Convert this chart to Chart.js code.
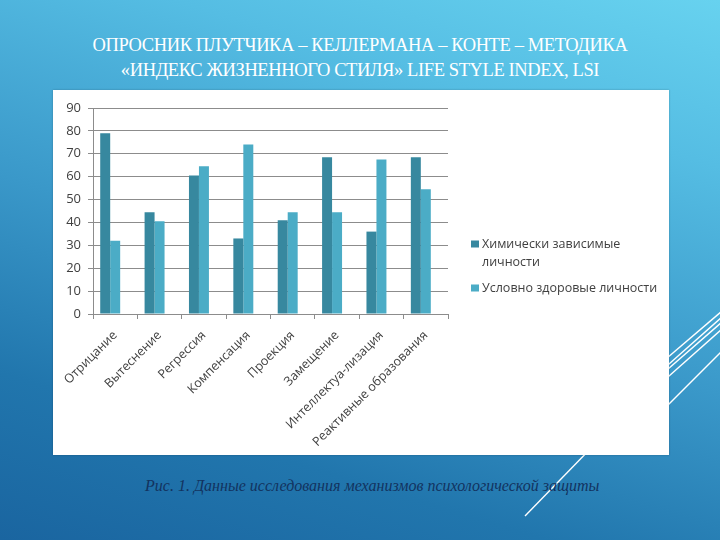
<!DOCTYPE html>
<html>
<head>
<meta charset="utf-8">
<script src="https://cdn.jsdelivr.net/npm/chart.js@4.4.1/dist/chart.umd.min.js"></script>
<style>
  html, body { margin: 0; padding: 0; }
  body {
    width: 720px; height: 540px; overflow: hidden; position: relative;
    background: linear-gradient(197deg, #67d2ef 0%, #55bde3 22%, #3a98c9 52%, #2176ad 78%, #1a65a0 100%);
    font-family: "Liberation Serif", serif;
  }
  .title {
    position: absolute; left: 0; width: 720px; text-align: center;
    color: #ffffff; font-family: "Liberation Serif", serif; font-size: 18.5px;
    letter-spacing: -0.4px; white-space: nowrap;
  }
  #box {
    position: absolute; left: 53px; top: 90px; width: 616px; height: 365px;
    background: #ffffff; box-shadow: 0 0 2px rgba(0,0,0,0.25);
  }
  #caption {
    position: absolute; left: 145px; top: 477px; white-space: nowrap;
    color: #13335f; font-family: "Liberation Serif", serif; font-style: italic; font-size: 16px;
  }
  svg { position: absolute; left: 0; top: 0; }
</style>
</head>
<body>
<svg width="720" height="540">
  <g stroke="#ffffff" stroke-width="1.4" fill="none">
    <line x1="660" y1="364" x2="722" y2="311"/>
    <line x1="660" y1="372" x2="722" y2="317"/>
    <line x1="660" y1="376" x2="722" y2="322"/>
    <line x1="660" y1="384" x2="722" y2="329"/>
    <line x1="660" y1="413" x2="722" y2="351"/>
    <line x1="595" y1="444" x2="525" y2="516"/>
  </g>
</svg>
<div class="title" style="top:35px;">ОПРОСНИК ПЛУТЧИКА – КЕЛЛЕРМАНА – КОНТЕ – МЕТОДИКА</div>
<div class="title" style="top:60px;">«ИНДЕКС ЖИЗНЕННОГО СТИЛЯ» LIFE STYLE INDEX, LSI</div>
<div id="box"><canvas id="c" width="616" height="365"></canvas></div>
<div id="caption">Рис. 1. Данные исследования механизмов психологической защиты</div>
<script>
const categories = ["Отрицание", "Вытеснение", "Регрессия", "Компенсация", "Проекция", "Замещение", "Интеллектуа-лизация", "Реактивные образования"];
const seriesNames = [["Химически зависимые", "личности"], ["Условно здоровые личности"]];
const chemDependent = [79, 44.5, 60.5, 33, 41, 68.5, 36, 68.5];
const conditionallyHealthy = [32, 40.5, 64.5, 74, 44.5, 44.5, 67.5, 54.5];
const emptySeries = [null, null, null, null, null, null, null, null];
const yTicks = [0, 10, 20, 30, 40, 50, 60, 70, 80, 90];

const colors = ["#37889f", "#4bacc6"];
const axisFont = { family: "Open Sans", size: 13 };

const legendPlugin = {
  id: "customLegend",
  afterDraw(chart) {
    const ctx = chart.ctx;
    ctx.save();
    ctx.font = "12.5px 'Open Sans'";
    ctx.fillStyle = "#404040";
    ctx.textBaseline = "middle";
    const x0 = 418, lineH = 18;
    let y = 154;
    chart.data.datasets.forEach((ds, i) => {
      if (!ds.label || !ds.label.length) return;
      const lines = Array.isArray(ds.label) ? ds.label : [ds.label];
      ctx.fillStyle = ds.backgroundColor;
      ctx.fillRect(x0, y - 3.5, 8, 7);
      ctx.fillStyle = "#404040";
      lines.forEach((t, k) => ctx.fillText(t, x0 + 11, y + k * lineH));
      y += lines.length * lineH + 8;
    });
    ctx.restore();
  }
};

new Chart(document.getElementById("c"), {
  type: "bar",
  data: {
    labels: categories,
    datasets: [
      { label: seriesNames[0], data: chemDependent, backgroundColor: colors[0] },
      { label: seriesNames[1], data: conditionallyHealthy, backgroundColor: colors[1] },
      { label: "", data: emptySeries, backgroundColor: "rgba(0,0,0,0)" }
    ]
  },
  options: {
    responsive: false,
    devicePixelRatio: 1,
    animation: false,
    layout: { padding: { left: 0, top: 18, right: 221, bottom: 0 } },
    datasets: { bar: { categoryPercentage: 0.675, barPercentage: 1 } },
    plugins: { legend: { display: false }, tooltip: { enabled: false } },
    scales: {
      x: {
        afterFit(scale) { scale.height = 141; },
        grid: { display: true, drawOnChartArea: false, drawTicks: true, tickLength: 5, color: "#8c8c8c", offset: true },
        border: { display: true, color: "#8c8c8c" },
        ticks: { color: "#404040", font: { family: "Open Sans", size: 12.5 }, minRotation: 45, maxRotation: 45, padding: 9, autoSkip: false }
      },
      y: {
        min: 0, max: 90,
        afterFit(scale) { scale.width = 40; },
        afterBuildTicks(scale) { scale.ticks = yTicks.map(v => ({ value: v })); },
        grid: { color: "#8c8c8c", tickLength: 5, drawTicks: true },
        border: { display: true, color: "#8c8c8c" },
        ticks: { color: "#404040", font: axisFont, padding: 7 }
      }
    }
  },
  plugins: [legendPlugin]
});
</script>
</body>
</html>
